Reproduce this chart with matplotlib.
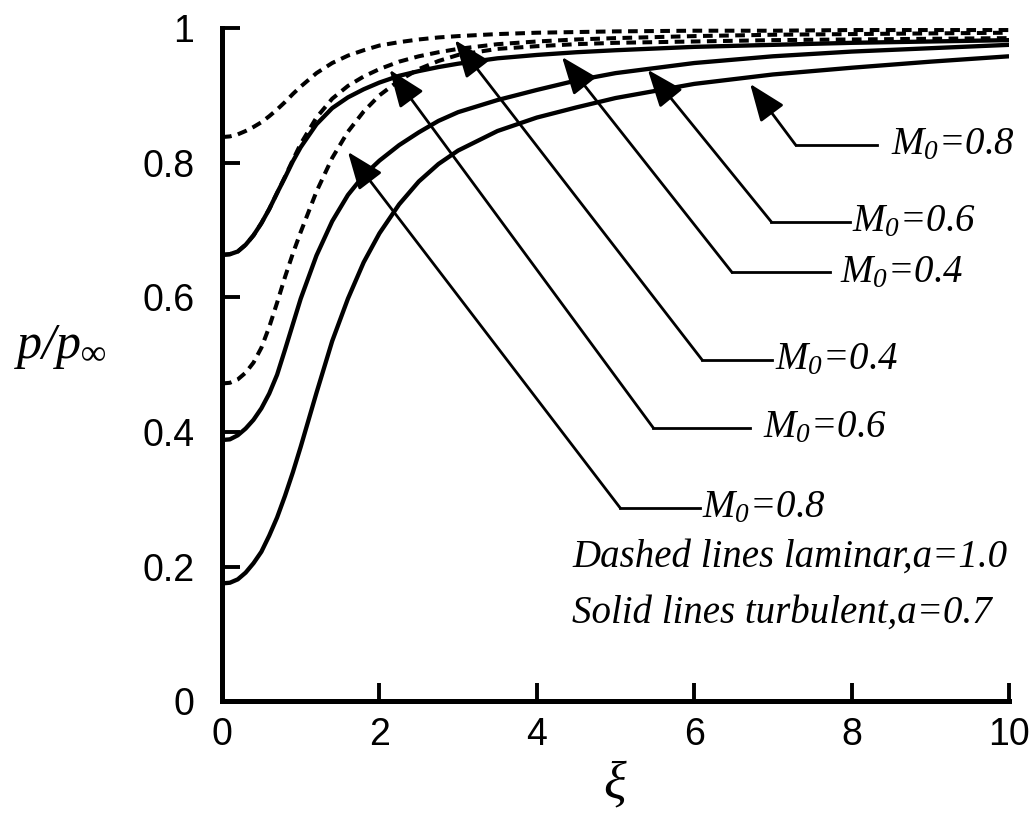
import matplotlib
matplotlib.use("Agg")
import matplotlib.pyplot as plt

plt.rcParams['mathtext.fontset'] = 'custom'
plt.rcParams['mathtext.rm'] = 'Liberation Serif:italic'
plt.rcParams['mathtext.it'] = 'Liberation Serif:italic'

# xi grid and p/p_inf
xi = [0, 0.1, 0.2, 0.3, 0.4, 0.5, 0.6, 0.7, 0.8, 0.9, 1.0, 1.2, 1.4, 1.6, 1.8, 2.0,
      2.25, 2.5, 2.75, 3.0, 3.5, 4.0, 4.5, 5, 6, 7, 8, 9, 10]

# turbulent (solid), a = 0.7
turb_04 = [0.663, 0.664, 0.668, 0.678, 0.692, 0.71, 0.731, 0.755, 0.778, 0.802, 0.823, 0.857, 0.881, 0.897, 0.909, 0.919,
           0.929, 0.936, 0.942, 0.947, 0.955, 0.96, 0.964, 0.967, 0.972, 0.975, 0.978, 0.98, 0.982]
turb_06 = [0.388, 0.389, 0.395, 0.405, 0.418, 0.435, 0.457, 0.485, 0.522, 0.56, 0.598, 0.662, 0.713, 0.752, 0.781, 0.803,
           0.826, 0.845, 0.862, 0.875, 0.893, 0.908, 0.922, 0.933, 0.948, 0.958, 0.965, 0.97, 0.975]
turb_08 = [0.175, 0.176, 0.181, 0.191, 0.205, 0.222, 0.246, 0.273, 0.305, 0.34, 0.378, 0.458, 0.535, 0.598, 0.652, 0.695,
           0.738, 0.772, 0.798, 0.818, 0.847, 0.867, 0.882, 0.896, 0.917, 0.931, 0.941, 0.95, 0.958]

# laminar (dashed), a = 1.0
lam_04 = [0.838, 0.839, 0.842, 0.847, 0.853, 0.86, 0.869, 0.879, 0.89, 0.902, 0.913, 0.933, 0.948, 0.959, 0.967, 0.974,
          0.979, 0.983, 0.986, 0.988, 0.991, 0.993, 0.994, 0.995, 0.996, 0.996, 0.997, 0.997, 0.997]
lam_06 = [0.663, 0.664, 0.668, 0.678, 0.692, 0.71, 0.731, 0.755, 0.779, 0.804, 0.828, 0.867, 0.895, 0.914, 0.928, 0.939,
          0.95, 0.958, 0.964, 0.969, 0.976, 0.98, 0.983, 0.985, 0.988, 0.99, 0.991, 0.992, 0.993]
lam_08 = [0.472, 0.473, 0.478, 0.488, 0.503, 0.525, 0.556, 0.592, 0.63, 0.665, 0.697, 0.757, 0.807, 0.846, 0.876, 0.9,
          0.922, 0.939, 0.951, 0.96, 0.969, 0.973, 0.976, 0.978, 0.98, 0.982, 0.983, 0.984, 0.985]

# labels: text, arrow tip, elbow, end of horizontal leader, text x
labels = ["0.8", "0.6", "0.4", "0.4", "0.6", "0.8"]
tips = [(6.71, 0.917), (5.41, 0.938), (4.32, 0.957), (2.96, 0.982), (2.13, 0.938), (1.60, 0.816)]
elbows = [(7.29, 0.826), (6.98, 0.712), (6.48, 0.637), (6.10, 0.507), (5.48, 0.406), (5.06, 0.287)]
leader_end = [8.32, 7.98, 7.73, 6.99, 6.71, 6.07]
text_x = [8.50, 8.00, 7.85, 7.03, 6.87, 6.10]

fig = plt.figure(figsize=(10.36, 8.24), dpi=100)
ax = fig.add_axes([0.2143, 0.149, 0.7597, 0.817])

for y in [turb_04, turb_06, turb_08]:
    ax.plot(xi, y, color='black', lw=3.1, solid_capstyle='butt')
for y in [lam_04, lam_06, lam_08]:
    ax.plot(xi, y, color='black', lw=2.9, linestyle=(0, (2.4, 1.6)))

serif = dict(family='Liberation Serif', style='italic', fontsize=28)

for lab, tip, elb, xe, xt in zip(labels, tips, elbows, leader_end, text_x):
    ax.annotate('', xy=tip, xytext=elb,
                arrowprops=dict(arrowstyle='-|>,head_length=1.15,head_width=0.45',
                                mutation_scale=20, color='black', lw=2.0,
                                shrinkA=0, shrinkB=0))
    ax.plot([elb[0], xe], [elb[1], elb[1]], color='black', lw=2.0)
    ax.text(xt, elb[1], r'$M_0$=' + lab, va='center', ha='left', **serif)

ax.text(4.45, 0.214, 'Dashed lines laminar,a=1.0', va='center', ha='left', **serif)
ax.text(4.45, 0.131, 'Solid lines turbulent,a=0.7', va='center', ha='left', **serif)

ax.set_xlim(0, 10)
ax.set_ylim(0, 1)
ax.set_xticks([0, 2, 4, 6, 8, 10])
ax.set_yticks([0, 0.2, 0.4, 0.6, 0.8, 1])
ax.set_yticklabels(['0', '0.2', '0.4', '0.6', '0.8', '1'])

for s in ['top', 'right']:
    ax.spines[s].set_visible(False)
for s in ['left', 'bottom']:
    ax.spines[s].set_linewidth(3.6)

ax.tick_params(direction='in', length=13, width=2.8, labelsize=27,
               labelfontfamily='Liberation Sans')
ax.tick_params(axis='y', pad=20)
ax.tick_params(axis='x', pad=11)

ax.set_xlabel(r'$\xi$', fontsize=38, labelpad=4)
ax.set_ylabel(r'$p/p_\infty$', fontsize=36, rotation=0, labelpad=0)
ax.yaxis.set_label_coords(-0.205, 0.49)

fig.savefig('out.png', dpi=100)
